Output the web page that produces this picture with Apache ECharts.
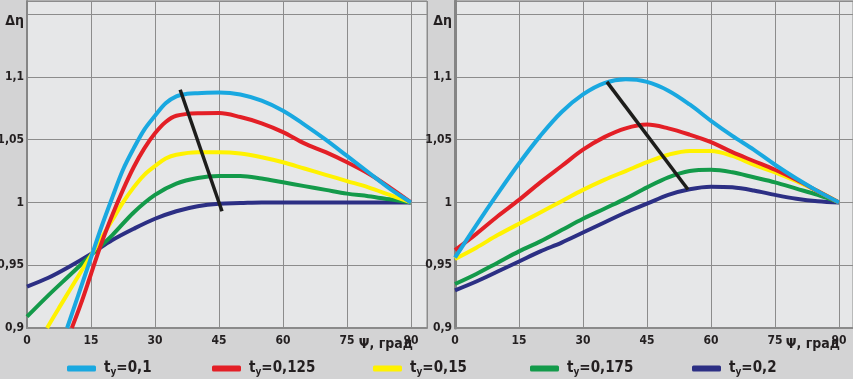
<!DOCTYPE html>
<html><head><meta charset="utf-8">
<script src="https://cdn.jsdelivr.net/npm/echarts@6/dist/echarts.min.js"></script>
<style>html,body{margin:0;padding:0;background:#d3d3d4;}#c{width:853px;height:379px;}</style>
</head><body><div id="c"></div>
<script>
// legend names (t_y values)
const names = ['0,1', '0,125', '0,15', '0,175', '0,2'];
const xTicks = [0, 15, 30, 45, 60, 75, 90];

// Left panel: [Psi, delta eta]
const leftBlue = [[9.4,0.9],[12,0.926],[15,0.956],[17.5,0.981],[20,1.004],[22.5,1.026],[25,1.043],[27.5,1.058],[30,1.069],[32.5,1.079],[35,1.0845],[37.5,1.0865],[40,1.087],[45,1.0875],[50,1.086],[55,1.081],[60,1.073],[65,1.062],[70,1.050],[75,1.037],[80,1.024],[85,1.011],[90,1.0]];
const leftRed = [[10.5,0.9],[12.5,0.918],[15,0.943],[17.5,0.968],[20,0.990],[22.5,1.010],[25,1.028],[27.5,1.043],[30,1.055],[32.5,1.064],[35,1.069],[40,1.071],[45,1.0712],[50,1.068],[55,1.063],[60,1.056],[65,1.047],[70,1.040],[75,1.032],[80,1.023],[85,1.012],[90,1.0]];
const leftYellow = [[4.7,0.9],[7.5,0.916],[10,0.930],[12.5,0.944],[15,0.958],[17.5,0.972],[20,0.986],[22.5,1.0],[25,1.012],[27.5,1.022],[30,1.029],[32.5,1.035],[35,1.038],[40,1.040],[45,1.040],[50,1.039],[55,1.036],[60,1.032],[65,1.027],[70,1.022],[75,1.017],[80,1.012],[85,1.006],[90,1.0]];
const leftGreen = [[0,0.909],[5,0.926],[10,0.942],[15,0.958],[20,0.974],[25,0.992],[30,1.006],[35,1.015],[40,1.0195],[45,1.021],[50,1.021],[55,1.019],[60,1.016],[65,1.013],[70,1.010],[75,1.007],[80,1.005],[85,1.0025],[90,1.0]];
const leftNavy = [[0,0.933],[5,0.940],[10,0.949],[15,0.959],[20,0.970],[25,0.979],[30,0.987],[35,0.993],[40,0.997],[45,0.999],[50,0.9995],[55,1.0],[60,1.0],[70,1.0],[80,1.0],[90,1.0]];
const leftBlack = [[35.9,1.0897],[45.7,0.993]];

// Right panel
const rightBlue = [[0,0.956],[5,0.982],[10,1.007],[15,1.031],[20,1.053],[25,1.072],[30,1.086],[35,1.095],[40,1.098],[45,1.096],[50,1.089],[55,1.078],[60,1.065],[65,1.053],[70,1.042],[75,1.030],[80,1.019],[85,1.009],[90,1.0]];
const rightRed = [[0,0.962],[5,0.975],[10,0.989],[15,1.002],[20,1.016],[25,1.029],[30,1.042],[35,1.052],[40,1.059],[45,1.062],[50,1.059],[55,1.054],[60,1.048],[65,1.040],[70,1.033],[75,1.026],[80,1.018],[85,1.009],[90,1.0]];
const rightYellow = [[0,0.955],[5,0.964],[10,0.974],[15,0.983],[20,0.992],[25,1.001],[30,1.010],[35,1.018],[40,1.025],[45,1.032],[50,1.038],[55,1.041],[60,1.041],[65,1.037],[70,1.030],[75,1.024],[80,1.017],[85,1.009],[90,1.0]];
const rightGreen = [[0,0.935],[5,0.943],[10,0.952],[15,0.961],[20,0.969],[25,0.978],[30,0.987],[35,0.995],[40,1.003],[45,1.012],[50,1.020],[55,1.025],[60,1.026],[65,1.024],[70,1.020],[75,1.016],[80,1.011],[85,1.006],[90,1.0]];
const rightNavy = [[0,0.930],[5,0.937],[10,0.945],[15,0.953],[20,0.961],[25,0.968],[30,0.976],[35,0.984],[40,0.992],[45,0.999],[50,1.006],[55,1.0105],[60,1.0125],[65,1.012],[70,1.0095],[75,1.006],[80,1.003],[85,1.001],[90,1.0]];
const rightBlack = [[35.6,1.096],[54.6,1.0103]];

const colors = ['#19a8e0', '#e31f26', '#fff200', '#139a4a', '#2c2f84'];
const FONT = '"Liberation Sans Narrow", "DejaVu Sans Condensed", "Noto Sans", sans-serif';
const TXT = '#231f20';

const leftData = [leftBlue, leftRed, leftYellow, leftGreen, leftNavy];
const rightData = [rightBlue, rightRed, rightYellow, rightGreen, rightNavy];

function xAxis(gi, nameGap) {
  return {
    type: 'value', gridIndex: gi, min: 0, max: gi === 0 ? 93.75 : 93.28, interval: 15,
    name: 'Ψ, град', nameLocation: 'end', nameGap: nameGap, nameMoveOverlap: false, nameTruncate: { maxWidth: null },
    nameTextStyle: { align: 'right', verticalAlign: 'top', padding: [9, 0, 0, 0], fontSize: 14, fontWeight: 'bold', color: TXT, fontFamily: FONT },
    axisLine: { show: true, lineStyle: { color: '#8a8a8a', width: 2 } },
    axisTick: { show: false },
    axisLabel: { margin: 7, fontSize: 12, fontWeight: 'bold', color: TXT, fontFamily: FONT, showMaxLabel: false, hideOverlap: false,
      formatter: v => (Math.abs(v / 15 - Math.round(v / 15)) < 1e-6 ? String(v) : '') },
    splitLine: { show: true, lineStyle: { color: '#8c8c8c', width: 1 } }
  };
}
function yAxis(gi, w) {
  return {
    type: 'value', gridIndex: gi, min: 0.9, max: 1.1604, interval: 0.05,
    axisLine: { show: true, lineStyle: { color: '#858585', width: w } },
    axisTick: { show: false },
    axisLabel: { margin: 3, fontSize: 12, fontWeight: 'bold', color: TXT, fontFamily: FONT, showMaxLabel: false,
      formatter: v => {
        if (Math.abs(v - 1.15) < 1e-6) return '{d|Δη}';
        const k = Math.round(v / 0.05);
        if (Math.abs(v / 0.05 - k) > 1e-6) return '';
        return String(+(k * 0.05).toFixed(2)).replace('.', ',');
      },
      rich: { d: { fontSize: 14, fontWeight: 'bold', color: TXT, fontFamily: FONT, padding: [14, 0, 0, 0] } }
    },
    splitLine: { show: true, lineStyle: { color: '#8c8c8c', width: 1 } }
  };
}

const series = [];
[leftData, rightData].forEach((arr, gi) => {
  for (let i = arr.length - 1; i >= 0; i--) {
    series.push({
      type: 'line', name: names[i], xAxisIndex: gi, yAxisIndex: gi, data: arr[i],
      showSymbol: false, symbol: 'none', smooth: 0.35, clip: true,
      lineStyle: { color: colors[i], width: 4 }, itemStyle: { color: colors[i] }, z: 3
    });
  }
  series.push({
    type: 'line', xAxisIndex: gi, yAxisIndex: gi, data: gi === 0 ? leftBlack : rightBlack,
    symbol: 'none', lineStyle: { color: '#1d1d1b', width: 3.5 }, z: 5, silent: true
  });
});

const legendLeft = [62, 207, 368, 525, 687];
const legends = names.map((n, i) => ({
  data: [n], left: legendLeft[i], top: 356, icon: 'roundRect', itemWidth: 29, itemHeight: 6, itemGap: 0,
  formatter: nm => '{t|t}{s|y}{t|=' + nm + '}',
  textStyle: {
    padding: [0, 0, 0, 3],
    rich: {
      t: { fontSize: 15, fontWeight: 'bold', color: TXT, fontFamily: FONT },
      s: { fontSize: 10, fontWeight: 'bold', color: TXT, fontFamily: FONT, padding: [7, 0, 0, 0] }
    }
  }
}));

const chart = echarts.init(document.getElementById('c'), null, { renderer: 'canvas' });
chart.setOption({
  animation: false,
  backgroundColor: '#d3d3d4',
  grid: [
    { left: 27, top: 1, width: 400, height: 327, show: true, containLabel: false, outerBoundsMode: 'none', backgroundColor: '#e6e7e8', borderColor: '#8c8c8c', borderWidth: 1 },
    { left: 455, top: 1, width: 398, height: 327, show: true, containLabel: false, outerBoundsMode: 'none', backgroundColor: '#e6e7e8', borderColor: '#8c8c8c', borderWidth: 1 }
  ],
  xAxis: [xAxis(0, -14), xAxis(1, -13)],
  yAxis: [yAxis(0, 2), yAxis(1, 3)],
  legend: legends,
  series: series
});
</script></body></html>
